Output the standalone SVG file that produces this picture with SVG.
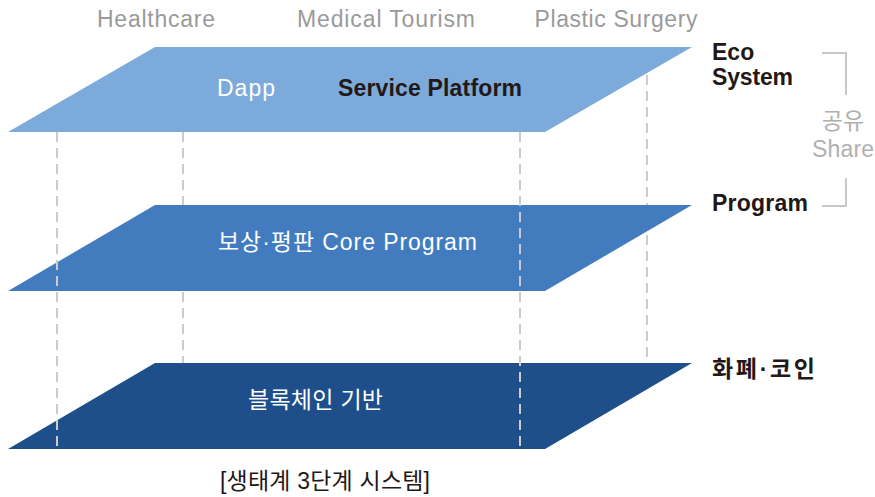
<svg xmlns="http://www.w3.org/2000/svg" width="875" height="497" viewBox="0 0 875 497">
<style>
.t{font-family:"Liberation Sans","Noto Sans CJK KR",sans-serif;}
.top{font-size:23px;fill:#9a9a9a;text-anchor:middle;}
.w{font-size:23px;fill:#ffffff;}
.lab{font-size:23px;font-weight:bold;fill:#231815;}
.gray{font-size:23px;fill:#b0b0b0;text-anchor:middle;}
.dash{stroke:#cccccc;stroke-width:2;stroke-dasharray:10 6;fill:none;}
.br{stroke:#c8c8c8;stroke-width:2;fill:none;}
</style>
<rect width="875" height="497" fill="#ffffff"/>
<g id="connectors-back">
<line class="dash" x1="183" y1="132" x2="183" y2="449"/>
<line class="dash" x1="647" y1="75" x2="647" y2="362"/>
</g>
<g id="layer-service">
<polygon points="155,47 692,47 545,132 8,132" fill="#7baadb"/>
<text class="t w" x="217" y="96" textLength="58">Dapp</text>
<text class="t lab" x="338" y="96" textLength="184">Service Platform</text>
</g>
<g id="layer-core">
<polygon points="155,205 692,205 545,291 8,291" fill="#427cbf"/>
<text class="t w" x="218" y="250" textLength="259">보상·평판 Core Program</text>
</g>
<g id="layer-chain">
<polygon points="155,363 692,363 545,449 8,449" fill="#1f4f8a"/>
<text class="t w" x="248" y="408" textLength="135">블록체인 기반</text>
</g>
<g id="connectors">
<line class="dash" x1="57" y1="132" x2="57" y2="449"/>
<line class="dash" x1="520" y1="132" x2="520" y2="449"/>
<polyline class="br" points="822,53 846,53 846,95"/>
<polyline class="br" points="846,178 846,206 822,206"/>
</g>
<g id="top-labels">
<text class="t top" x="156" y="27" textLength="118">Healthcare</text>
<text class="t top" x="386" y="27" textLength="178">Medical Tourism</text>
<text class="t top" x="616" y="27" textLength="163">Plastic Surgery</text>
</g>
<g id="right-labels">
<text class="t lab" x="712" y="60">Eco</text>
<text class="t lab" x="712" y="85" textLength="81">System</text>
<text class="t lab" x="712" y="211" textLength="96">Program</text>
<text class="t lab" x="712" y="377" textLength="103">화폐·코인</text>
<text class="t gray" x="843" y="129">공유</text>
<text class="t gray" x="843" y="157" textLength="62">Share</text>
</g>
<g id="caption">
<text class="t" x="220" y="489" style="font-size:23px;fill:#231815" textLength="210">[생태계 3단계 시스템]</text>
</g>
</svg>
